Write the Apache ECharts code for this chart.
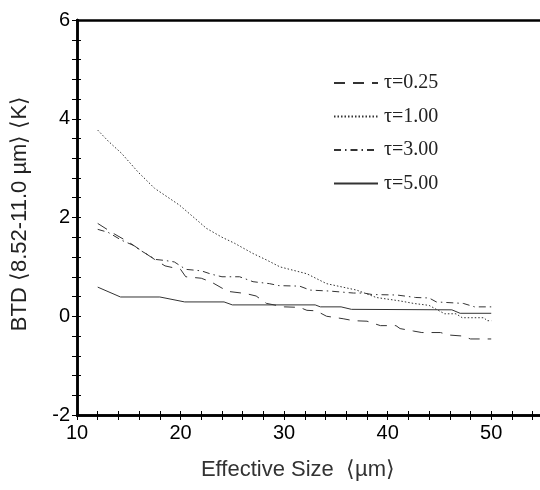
<!DOCTYPE html>
<html>
<head>
<meta charset="utf-8">
<script src="https://cdn.jsdelivr.net/npm/echarts@6/dist/echarts.min.js"></script>
<style>
  html, body { margin: 0; padding: 0; background: #fff; }
  #chart { width: 540px; height: 490px; }
</style>
</head>
<body>
<div id="chart"></div>
<script>
// BTD (8.52-11.0 um) vs effective size, for four optical depths
const seriesNames = ['τ=0.25', 'τ=1.00', 'τ=3.00', 'τ=5.00'];

const tau025 = [
    [12, 1.88], [13.5, 1.68], [15, 1.5], [17.5, 1.15], [18.5, 1.02], [20, 0.95], [20.5, 0.8],
    [22, 0.77], [23, 0.69], [24, 0.57], [24.7, 0.5], [26.3, 0.46], [27.3, 0.41], [28.3, 0.26],
    [30, 0.19], [31.5, 0.18], [32.2, 0.12], [33.1, 0.11], [34.1, 0.0], [35.7, -0.05],
    [36.7, -0.09], [38, -0.1], [39.3, -0.19], [40.8, -0.19], [41.2, -0.25], [42.5, -0.3],
    [43.3, -0.33], [45.1, -0.33], [45.9, -0.38], [47.2, -0.4], [48, -0.46], [50, -0.46],
];
const tau100 = [
    [12, 3.77], [13, 3.55], [14.3, 3.3], [15.9, 2.92], [17.5, 2.59], [19.9, 2.25], [21.4, 1.98],
    [22.5, 1.78], [24, 1.6], [25.2, 1.48], [27, 1.27], [28.3, 1.14], [29.6, 1.0], [32.2, 0.86],
    [34.1, 0.66], [37, 0.53], [38.9, 0.38], [41.2, 0.31], [42.5, 0.26], [44, 0.22], [45.5, 0.05],
    [46.6, 0.05], [47.2, -0.03], [49.3, -0.03], [49.6, -0.09], [50, -0.09],
];
const tau300 = [
    [12, 1.76], [13, 1.7], [14.3, 1.54], [15.4, 1.44], [16, 1.35], [17.6, 1.15], [18.5, 1.13],
    [19.4, 1.1], [20.5, 0.95], [22, 0.92], [23, 0.85], [24, 0.8], [25.7, 0.8], [27, 0.7],
    [28.6, 0.66], [29.5, 0.62], [31.5, 0.61], [32.5, 0.53], [34.4, 0.51], [36.7, 0.47],
    [37.7, 0.47], [38.5, 0.44], [40.9, 0.43], [42.7, 0.38], [44, 0.37], [44.7, 0.29],
    [47.3, 0.26], [48.4, 0.19], [50, 0.19],
];
const tau500 = [
    [12, 0.59], [14.2, 0.39], [18, 0.39], [20.4, 0.29], [24.2, 0.29], [25, 0.23], [33, 0.23],
    [33.5, 0.19], [35.5, 0.19], [36.5, 0.14], [46.2, 0.13], [47, 0.06], [50, 0.06],
];
const lineTypes = [[11, 8], [1.5, 2], [7, 4, 1.5, 4], 'solid'];

const xRange = [10, 55];
const yRange = [-2, 6];

const chart = echarts.init(document.getElementById('chart'));

const labelFont = {fontFamily: 'Liberation Sans', fontSize: 20, color: '#000'};
const baseX = {
    type: 'value', min: xRange[0], max: xRange[1], interval: 10,
    splitLine: {show: false},
    axisLine: {onZero: false, lineStyle: {color: '#000', width: 2.5}},
};
const baseY = {
    type: 'value', min: yRange[0], max: yRange[1], interval: 2,
    splitLine: {show: false},
    axisLine: {onZero: false, lineStyle: {color: '#000', width: 2.5}},
};

chart.setOption({
    animation: false,
    grid: {left: 77, right: -3, top: 20, bottom: 75, outerBoundsMode: 'none', containLabel: false},
    legend: {
        orient: 'vertical',
        left: 328,
        top: 68,
        itemWidth: 44,
        itemHeight: 14,
        itemGap: 13.5,
        data: seriesNames,
        itemStyle: {opacity: 0},
        textStyle: {fontFamily: 'Liberation Serif', fontSize: 20, color: '#222', padding: [0, 0, 0, 1]},
    },
    xAxis: [
        Object.assign({}, baseX, {
            position: 'bottom',
            axisTick: {show: true, inside: false, length: 5, lineStyle: {color: '#000', width: 1}},
            minorTick: {show: true, splitNumber: 5, length: 5, lineStyle: {color: '#000', width: 1}},
            axisLabel: Object.assign({margin: 8, showMaxLabel: false,
                formatter: (v) => (v === xRange[1] ? '' : String(v))}, labelFont),
            name: 'Effective Size  ⟨µm⟩',
            nameLocation: 'middle',
            nameGap: 44,
            nameTextStyle: {fontFamily: 'Liberation Sans', fontSize: 22, color: '#333', padding: [0, 24, 0, 0]},
        }),
        Object.assign({}, baseX, {
            position: 'bottom',
            axisTick: {show: true, inside: true, length: 4, lineStyle: {color: '#000', width: 1}},
            minorTick: {show: true, splitNumber: 5, length: 4, lineStyle: {color: '#000', width: 1}},
            axisLabel: {show: false},
        }),
        Object.assign({}, baseX, {
            position: 'top',
            axisTick: {show: false},
            axisLabel: {show: false},
        }),
    ],
    yAxis: [
        Object.assign({}, baseY, {
            position: 'left',
            axisTick: {show: true, inside: false, length: 5, lineStyle: {color: '#000', width: 1}},
            minorTick: {show: true, splitNumber: 5, length: 5, lineStyle: {color: '#000', width: 1}},
            axisLabel: Object.assign({margin: 7}, labelFont),
            name: 'BTD ⟨8.52-11.0 µm⟩ ⟨K⟩',
            nameLocation: 'middle',
            nameGap: 46,
            nameTextStyle: {fontFamily: 'Liberation Sans', fontSize: 22, color: '#222', padding: [0, 0, 0, 8]},
        }),
        Object.assign({}, baseY, {
            position: 'left',
            axisTick: {show: true, inside: true, length: 4, lineStyle: {color: '#000', width: 1}},
            minorTick: {show: true, splitNumber: 5, length: 4, lineStyle: {color: '#000', width: 1}},
            axisLabel: {show: false},
        }),
    ],
    series: [tau025, tau100, tau300, tau500].map((data, i) => ({
        name: seriesNames[i],
        type: 'line',
        data: data,
        symbol: 'none',
        lineStyle: {color: '#333', width: 1, type: lineTypes[i]},
        itemStyle: {color: '#333'},
    })),
});
</script>
</body>
</html>
